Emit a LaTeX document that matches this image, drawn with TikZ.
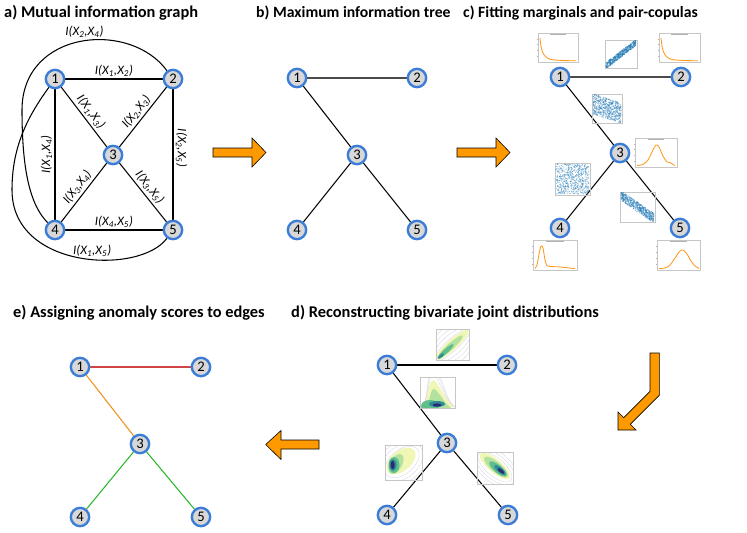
\documentclass[tikz,border=0pt]{standalone}
\usepackage{fontspec}
\setmainfont{Carlito}
\usetikzlibrary{backgrounds}

\definecolor{vblue}{RGB}{58,124,214}
\definecolor{vgray}{RGB}{216,216,216}
\definecolor{arroworange}{RGB}{255,153,0}
\definecolor{margorange}{RGB}{255,150,20}
\definecolor{copblue}{RGB}{31,119,180}
\definecolor{scorered}{RGB}{208,70,70}
\definecolor{scoreorange}{RGB}{240,145,30}
\definecolor{scoregreen}{RGB}{40,185,40}
\definecolor{jyellow}{RGB}{240,246,180}
\definecolor{jlgreen}{RGB}{180,224,160}
\definecolor{jgreen}{RGB}{95,190,140}
\definecolor{jteal}{RGB}{45,140,150}
\definecolor{jdark}{RGB}{45,40,120}
\definecolor{jline}{RGB}{205,200,220}

\tikzset{
  vnode/.style={circle, draw=vblue, fill=vgray, line width=2pt, minimum size=0.55cm,
    inner sep=0pt, font=\fontsize{12.5}{12.5}\selectfont},
  miedge/.style={black, line width=0.9pt},
  treeedge/.style={black, line width=0.9pt},
  milabel/.style={font=\fontsize{11}{11}\selectfont\itshape, inner sep=2pt},
  paneltitle/.style={anchor=west, inner sep=0pt, font=\fontsize{14}{14}\selectfont\bfseries},
  narrowtitle/.style={paneltitle, font=\fontsize{13.4}{14}\selectfont\bfseries},
  bigarrow/.style={fill=arroworange, draw=black, line width=0.5pt},
  plotframe/.style={draw=gray!45, line width=0.3pt},
  plotink/.style={draw=gray!60, line width=0.2pt},
  margcurve/.style={draw=margorange, line width=0.7pt},
  copdot/.style={fill=copblue, opacity=0.5},
  jcontour/.style={draw=jline, line width=0.2pt}
}

\newcommand{\mutinf}[2]{I(X\textsubscript{#1},X\textsubscript{#2})}

% small marginal density plot: x, y, width, height, curve
\newcommand{\margplot}[5]{%
  \begin{scope}[shift={(#1,#2)}]
    \draw[plotframe] (0,0) rectangle (#3,#4);
    \draw[plotink] (#3*0.3,1.5) -- (#3*0.7,1.5);
    \foreach \t in {0.2,0.4,0.6,0.8} \draw[plotink] (0,#4*\t) -- (-0.8,#4*\t);
    \draw[margcurve] plot[smooth] coordinates {#5};
  \end{scope}}

% small pair-copula scatter: x, y, width, height, slope, noise
\newcommand{\copscatter}[6]{%
  \begin{scope}[shift={(#1,#2)}]
    \draw[plotframe] (0,0) rectangle (#3,#4);
    \begin{scope}
      \clip (0.5,0.5) rectangle (#3-0.5,#4-0.5);
      \foreach \i in {1,...,650}{
        \pgfmathsetmacro{\ptu}{rand}
        \pgfmathsetmacro{\ptv}{#5*\ptu+#6*rand}
        \fill[copdot] ({#3*(0.5+0.47*\ptu)},{#4*(0.5-0.47*\ptv)}) circle (0.55);
      }
    \end{scope}
  \end{scope}}

\begin{document}
\begin{tikzpicture}[x=0.03cm,y=-0.03cm]
\useasboundingbox (0,0) rectangle (747,533);
\pgfmathsetseed{11}

%panel titles
\node[paneltitle] (ta) at (4,13) {a) Mutual information graph};
\node[narrowtitle] (tb) at (256,13) {b) Maximum information tree};
\node[narrowtitle] (tc) at (463,13) {c) Fitting marginals and pair-copulas};
\node[paneltitle] (te) at (13,313) {e) Assigning anomaly scores to edges};
\node[paneltitle] (td) at (291,313) {d) Reconstructing bivariate joint distributions};

%vertices of the five panels
\foreach \n/\x/\y in {1/55/79,2/173/79,3/113/155,4/55/230,5/173/230}
  \node[vnode] (a\n) at (\x,\y) {\n};
\foreach \n/\x/\y in {1/297/78,2/417/78,3/357/155,4/297/230,5/417/230}
  \node[vnode] (b\n) at (\x,\y) {\n};
\foreach \n/\x/\y in {1/560/77,2/681/77,3/620/153,4/560/228,5/680/228}
  \node[vnode] (c\n) at (\x,\y) {\n};
\foreach \n/\x/\y in {1/387/365,2/507/365,3/447/443,4/387/515,5/508/515}
  \node[vnode] (d\n) at (\x,\y) {\n};
\foreach \n/\x/\y in {1/80/367,2/201/367,3/140/444,4/80/517,5/201/517}
  \node[vnode] (e\n) at (\x,\y) {\n};

\begin{scope}[on background layer]
%complete graph with mutual information
\draw[miedge] (a1) -- node[milabel, above] {\mutinf{1}{2}} (a2);
\draw[miedge] (a4) -- node[milabel, above] {\mutinf{4}{5}} (a5);
\draw[miedge] (a4) -- node[milabel, rotate=90, anchor=south] {\mutinf{1}{4}} (a1);
\draw[miedge] (a2) -- node[milabel, rotate=-90, anchor=south, pos=0.45] {\mutinf{2}{5}} (a5);
\draw[miedge] (a1) -- node[milabel, sloped, above, pos=0.5] {\mutinf{1}{3}} (a3);
\draw[miedge] (a3) -- node[milabel, sloped, above, pos=0.5] {\mutinf{2}{3}} (a2);
\draw[miedge] (a4) -- node[milabel, sloped, above] {\mutinf{3}{4}} (a3);
\draw[miedge] (a3) -- node[milabel, sloped, above] {\mutinf{3}{5}} (a5);
\coordinate (leftA) at (22,110);
\coordinate (leftB) at (12,190);
\draw[miedge] (a2) .. controls (130,20) and (22,30) .. (leftA)
  node[milabel, pos=0.48, above] {\mutinf{2}{4}}
  .. controls (22,170) and (30,205) .. (a4);
\draw[miedge] (a1) .. controls (25,120) and (12,150) .. (leftB)
  .. controls (12,270) and (140,275) .. (a5)
  node[milabel, pos=0.56, above] {\mutinf{1}{5}};

%trees of panels b, c and d
\foreach \p in {b,c,d}{
  \draw[treeedge] (\p1) -- (\p3);
  \draw[treeedge] (\p3) -- (\p4);
  \draw[treeedge] (\p3) -- (\p5);
}
\draw[treeedge, draw=black!70] (b1) -- (b2);
\draw[treeedge, draw=black!70] (c1) -- (c2);
\draw[treeedge] (d1) -- (d2);

%anomaly scores
\draw[treeedge, draw=scorered] (e1) -- (e2);
\draw[treeedge, draw=scoreorange] (e1) -- (e3);
\draw[treeedge, draw=scoregreen] (e3) -- (e4);
\draw[treeedge, draw=scoregreen] (e3) -- (e5);
\end{scope}

%marginals
\margplot{538}{33}{40}{29}{(2,5) (3,13) (4.5,19) (7,23) (10,25.5) (15,26.8) (25,27.5) (38,27.8)}
\margplot{659}{33}{41}{29}{(2,5) (3,13) (4.5,19) (7,23) (10,25.5) (15,26.8) (25,27.5) (39,27.8)}
\margplot{635}{138}{42}{29}{(2,27.5) (8,26.5) (13,22) (17,14) (21,7) (24,9) (28,18) (32,24) (35,24.5) (38,26.5) (40,27.5)}
\margplot{533}{240}{44}{30}{(2,28.5) (4,25) (6,14) (8,6) (10,8) (12,20) (14,25.5) (18,26.5) (28,27) (36,28) (42,28.5)}
\margplot{657}{240}{43}{30}{(2,28.5) (8,28) (13,25) (18,18) (23,11) (26,10) (30,14) (34,21) (38,26) (42,28.5)}

%pair-copulas
\copscatter{605}{40}{32}{28}{0.9}{0.25}
\copscatter{592}{94}{30}{29}{-0.35}{0.75}
\copscatter{555}{163}{35}{32}{0}{1}
\copscatter{620}{192}{35}{30}{-0.8}{0.35}

%joint distribution 1-2
\begin{scope}
  \clip (436,329) rectangle (469,360);
  \foreach \r in {6,10,14,18}
    \draw[jcontour, rotate around={42:(452,345)}] (452,345) ellipse [x radius=24, y radius=\r];
  \fill[jyellow, rotate around={42:(452,345)}] (452,345) ellipse [x radius=22, y radius=5];
  \fill[jlgreen, rotate around={42:(450,347)}] (450,347) ellipse [x radius=17, y radius=3.2];
  \fill[jgreen, rotate around={42:(446,351)}] (446,351) ellipse [x radius=10, y radius=2.2];
  \fill[jteal, rotate around={42:(441,356)}] (441,356) ellipse [x radius=4, y radius=1.5];
\end{scope}
\draw[plotframe] (436,329) rectangle (469,360);

%joint distribution 1-3
\begin{scope}
  \clip (420,377) rectangle (455,408);
  \foreach \s in {1.2,1.45,1.7}
    \draw[jcontour] (421,408) .. controls (428,408) and (428,408-28*\s) .. (433,408-28*\s)
      .. controls (438,408-28*\s) and (446,406) .. (456,407);
  \fill[jyellow] (421,408) .. controls (428,407) and (428,379) .. (433,380)
    .. controls (438,381) and (445,401) .. (454,407) -- cycle;
  \fill[jlgreen] (424,408) .. controls (430,406) and (430,388) .. (434,389)
    .. controls (438,390) and (444,403) .. (451,408) -- cycle;
  \fill[jgreen] (430,406) ellipse [x radius=9, y radius=6];
  \fill[jteal] (437,404) ellipse [x radius=8, y radius=3];
  \fill[jdark] (437,405) ellipse [x radius=4.5, y radius=1.6];
\end{scope}
\draw[plotframe] (420,377) rectangle (455,408);

%joint distribution 3-4
\begin{scope}
  \clip (385,445) rectangle (422,480);
  \foreach \r in {12,16,20}
    \draw[jcontour, rotate around={40:(402,462)}] (402,462) ellipse [x radius=\r+8, y radius=\r];
  \fill[jyellow, rotate around={40:(401,461)}] (401,461) ellipse [x radius=17, y radius=10];
  \fill[jlgreen, rotate around={60:(396,464)}] (396,464) ellipse [x radius=11, y radius=6];
  \fill[jgreen] (394,465) ellipse [x radius=5.5, y radius=8];
  \fill[jteal] (393,465) ellipse [x radius=3.5, y radius=6];
  \fill[jdark] (392.7,465) ellipse [x radius=2, y radius=4.2];
\end{scope}
\draw[plotframe] (385,445) rectangle (422,480);

%joint distribution 3-5
\begin{scope}
  \clip (477,452) rectangle (513,484);
  \foreach \r in {9,12,15}
    \draw[jcontour, rotate around={-40:(495,467)}] (495,467) ellipse [x radius=\r+12, y radius=\r];
  \fill[jyellow, rotate around={-40:(495,466)}] (495,466) ellipse [x radius=19, y radius=6.5];
  \fill[jlgreen, rotate around={-40:(496,467)}] (496,467) ellipse [x radius=15, y radius=5];
  \fill[jgreen, rotate around={-40:(498,469)}] (498,469) ellipse [x radius=11, y radius=3.8];
  \fill[jteal, rotate around={-40:(500,470)}] (500,470) ellipse [x radius=7, y radius=2.6];
  \fill[jdark, rotate around={-40:(501,471)}] (501,471) ellipse [x radius=4, y radius=1.6];
\end{scope}
\draw[plotframe] (477,452) rectangle (513,484);

%arrows between panels
\draw[bigarrow] (213,148) -- (252,148) -- (252,138) -- (266,152.5) -- (252,167)
  -- (252,157) -- (213,157) -- cycle;
\draw[bigarrow] (457,148) -- (496,148) -- (496,138) -- (510,152.5) -- (496,167)
  -- (496,157) -- (457,157) -- cycle;
\draw[bigarrow] (650,353) -- (659.3,353) -- (659.3,395.3) -- (630.3,424.3) -- (636,430)
  -- (618,430) -- (618,412) -- (623.7,417.7) -- (650,391.4) -- cycle;
\draw[bigarrow] (319,440) -- (281,440) -- (281,430.5) -- (265.7,444.5) -- (281,459.5)
  -- (281,449) -- (319,449) -- cycle;

\end{tikzpicture}
\end{document}
